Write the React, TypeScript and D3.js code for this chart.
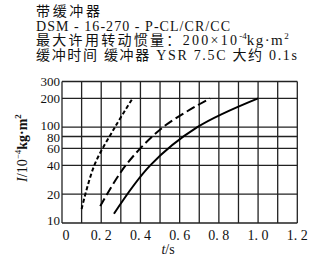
import React from "react";
import * as d3 from "d3";

const titleLines = [
  "带缓冲器",
  "DSM - 16-270 - P-CL/CR/CC",
];
const inertiaLabel = "最大许用转动惯量：200×10";
const bufferLine = "缓冲时间  缓冲器 YSR 7.5C 大约 0.1s";

const xTicks = [0, 0.2, 0.4, 0.6, 0.8, 1.0, 1.2];
const xTickLabels = ["0", "0. 2", "0. 4", "0. 6", "0. 8", "1. 0", "1. 2"];
const xGrid = [0, 0.1, 0.2, 0.3, 0.4, 0.5, 0.6, 0.7, 0.8, 0.9, 1.0, 1.1, 1.2];
const yTicks = [10, 20, 40, 60, 80, 100, 200, 300];

// series: [t (s), I (10^-4 kg·m²)]
const shortDashT = [0.1, 0.165, 0.27, 0.36];
const shortDashI = [14, 40, 100, 200];
const longDashT = [0.195, 0.325, 0.515, 0.755];
const longDashI = [15, 40, 100, 200];
const solidT = [0.265, 0.45, 0.69, 1.0];
const solidI = [12.5, 40, 100, 200];

const FONT = "'Liberation Serif', 'Noto Sans CJK SC', serif";

export default function App() {
  const x = d3.scaleLinear().domain([0, 1.2]).range([62, 297.3]);
  const y = d3.scaleLog().domain([10, 300]).range([223, 81.5]);
  const line = d3
    .line<[number, number]>()
    .x((d) => x(d[0]))
    .y((d) => y(d[1]))
    .curve(d3.curveCatmullRom.alpha(0.5));
  const zip = (a: number[], b: number[]) => a.map((v, i) => [v, b[i]] as [number, number]);
  const series = [
    { d: zip(shortDashT, shortDashI), dash: "4 2.5" },
    { d: zip(longDashT, longDashI), dash: "9 4" },
    { d: zip(solidT, solidI), dash: "" },
  ];
  const [x0, x1] = x.range();
  const [yb, yt] = y.range();
  return (
    <svg
      width={324}
      height={257}
      style={{ position: "absolute", left: 0, top: 0, background: "#fff" }}
      fontFamily={FONT}
    >
      <rect width={324} height={257} fill="#fff" />
      <g fontSize={14} fill="#111">
        <text x={36} y={16} textLength={64} lengthAdjust="spacing">{titleLines[0]}</text>
        <text x={36} y={30.5} textLength={194} lengthAdjust="spacing">{titleLines[1]}</text>
        <text x={36} y={45}>
          <tspan textLength={201} lengthAdjust="spacing">{inertiaLabel}</tspan>
          <tspan fontSize={9} dy={-6}>-4</tspan>
          <tspan dy={6} fontSize={15} textLength={36} lengthAdjust="spacing">kg·m</tspan>
          <tspan fontSize={9} dy={-6}>2</tspan>
        </text>
        <text x={36} y={59.5} textLength={261} lengthAdjust="spacing">{bufferLine}</text>
      </g>
      <g stroke="#222" strokeWidth={1.3} fill="none">
        {xGrid.map((t) => (
          <line key={"vx" + t} x1={x(t)} x2={x(t)} y1={yt} y2={yb} />
        ))}
        {yTicks.map((v) => (
          <line key={"hy" + v} x1={x0} x2={x1} y1={y(v)} y2={y(v)} />
        ))}
      </g>
      <g fontSize={13} fill="#111" textAnchor="end">
        {yTicks.map((v) => (
          <text key={"yl" + v} x={x0 - 2} y={y(v) + (v === 10 ? 2 : v === 100 ? 3 : v === 80 ? 5.5 : 4.5)}>
            {v}
          </text>
        ))}
      </g>
      <g fontSize={14} fill="#111" textAnchor="middle">
        {xTicks.map((t, i) => (
          <text key={"xl" + t} x={x(t) + (i === 0 ? 4 : 0)} y={240}>
            {xTickLabels[i]}
          </text>
        ))}
      </g>
      <text x={168} y={254} fontSize={14} textAnchor="middle" fill="#111">
        <tspan fontStyle="italic">t</tspan>/s
      </text>
      <text
        transform="translate(27,148) rotate(-90)"
        fontSize={14}
        textAnchor="middle"
        fill="#111"
      >
        <tspan fontStyle="italic">I</tspan>/10
        <tspan fontSize={9} dy={-6}>−4</tspan>
        <tspan dy={6} fontWeight="bold">kg·m</tspan>
        <tspan fontSize={9} dy={-6} fontWeight="bold">2</tspan>
      </text>
      <g fill="none" stroke="#000" strokeWidth={2}>
        {series.map((s, i) => (
          <path key={i} d={line(s.d) || ""} strokeDasharray={s.dash || undefined} />
        ))}
      </g>
    </svg>
  );
}
